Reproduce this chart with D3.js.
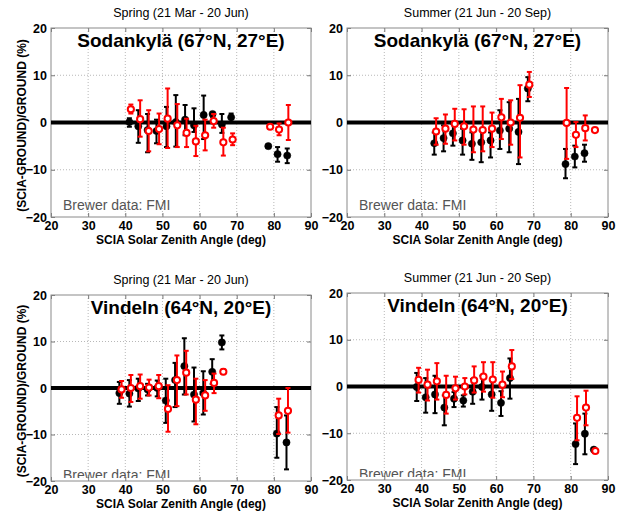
<!DOCTYPE html>
<html>
<head>
<meta charset="utf-8">
<script src="https://cdn.jsdelivr.net/npm/d3@7"></script>
<style>
  body { margin: 0; background: #fff; }
  svg { display: block; font-family: "Liberation Sans", Arial, sans-serif; }
</style>
</head>
<body>
<svg id="chart" width="623" height="512"></svg>
<script>
const xTicks = [20, 30, 40, 50, 60, 70, 80, 90];
const yTicks = [-20, -10, 0, 10, 20];
const seasons = ["Spring (21 Mar - 20 Jun)", "Summer (21 Jun - 20 Sep)"];
const stations = ["Sodankylä (67°N, 27°E)", "Vindeln (64°N, 20°E)"];
const sourceNote = "Brewer data: FMI";
const xTitle = "SCIA Solar Zenith Angle (deg)";
const yTitle = "(SCIA-GROUND)/GROUND (%)";

// rows: [sza, value, upper end of bar, lower end of bar]
const sodSpringBlack = [
  [41.1, 0.1, 0.9, -0.9], [43.5, -0.8, 2.6, -4.3], [46.0, -1.6, 1.8, -6.3],
  [48.4, -1.8, 0.6, -4.4], [51.1, -0.8, 3.3, -5.2], [53.6, 0.1, 5.8, -5.1],
  [56.1, 0.6, 3.7, -2.7], [58.5, -0.6, 3.0, -2.0], [61.1, 1.6, 5.7, -3.5],
  [63.5, 1.8, 2.2, 1.2], [66.0, -0.4, 1.8, -2.2], [68.5, 1.1, 1.9, 0.1],
  [78.5, -5.0, -4.7, -5.3], [81.0, -6.7, -5.2, -8.3], [83.6, -7.0, -5.5, -8.6]
];
const sodSpringRed = [
  [41.5, 2.8, 3.8, 1.9], [44.0, 0.7, 4.7, -3.0], [46.3, -1.8, 2.6, -6.1],
  [49.1, -1.4, 1.9, -4.6], [51.4, 0.8, 7.2, -5.4], [54.0, -0.6, 3.9, -5.2],
  [56.5, -2.2, 0.8, -5.2], [59.0, -4.0, -0.7, -7.1], [61.5, -2.7, 0.6, -5.9],
  [63.8, 0.3, 1.8, -1.1], [66.4, -4.2, -1.1, -7.0], [68.9, -3.6, -2.3, -4.8],
  [79.0, -0.9, -0.5, -1.3], [81.4, -1.5, -0.2, -2.7], [83.9, 0.0, 3.7, -3.7]
];
const sodSummerBlack = [
  [43.4, -4.4, -2.1, -6.8], [45.9, -3.3, -0.6, -6.1], [48.4, -2.3, -0.3, -4.9],
  [51.0, -3.8, -1.3, -6.8], [53.5, -4.5, -2.1, -7.9], [56.0, -4.2, -1.7, -8.4],
  [58.5, -3.8, -2.1, -7.4], [61.0, -1.7, 2.6, -5.6], [63.5, -1.3, 4.3, -6.3],
  [66.0, -2.0, 5.0, -8.8], [68.5, 7.2, 9.6, 4.5], [78.6, -8.8, -5.6, -11.8],
  [81.1, -7.2, -4.9, -9.5], [83.7, -6.5, -4.7, -8.3]
];
const sodSummerRed = [
  [43.9, -1.9, 0.9, -4.7], [46.4, -1.3, 1.7, -4.5], [48.9, -0.3, 2.9, -3.8],
  [51.4, -0.8, 2.8, -4.7], [53.9, -1.5, 3.4, -6.3], [56.4, -1.6, 3.4, -6.1],
  [58.9, -1.3, 2.1, -5.2], [61.4, 1.1, 5.0, -3.5], [63.9, 0.0, 4.7, -4.7],
  [66.4, 1.0, 7.9, -7.4], [68.9, 8.0, 10.7, 5.4], [78.9, -0.1, 7.3, -7.7],
  [81.4, -2.6, 0.1, -5.2], [83.9, -1.2, 1.5, -3.8], [86.5, -1.6, -1.6, -1.6]
];
const vinSpringBlack = [
  [38.4, -1.1, 1.3, -3.4], [41.1, -1.2, 1.7, -4.0], [43.5, -0.1, 2.0, -2.8],
  [46.0, -0.3, 0.9, -1.6], [48.6, 0.0, 1.6, -1.8], [50.9, -2.7, 2.0, -7.5],
  [53.4, 1.7, 5.4, -4.1], [55.9, 4.7, 10.7, -1.4], [58.5, -1.4, 4.4, -7.2],
  [61.0, -1.1, 3.6, -5.7], [63.4, 3.5, 6.2, 0.9], [66.0, 9.8, 11.3, 8.3],
  [80.8, -9.8, -4.1, -15.0], [83.4, -11.7, -5.9, -17.5]
];
const vinSpringRed = [
  [39.0, -0.3, 1.5, -2.1], [41.5, 0.0, 2.8, -3.0], [44.0, 0.4, 2.9, -2.3],
  [46.4, 0.1, 1.8, -1.6], [49.0, 0.4, 2.8, -2.2], [51.5, -4.5, 0.6, -9.4],
  [53.9, 1.7, 7.0, -3.9], [56.4, 3.3, 8.0, -1.4], [59.0, -2.5, 2.0, -7.8],
  [61.5, -1.6, 1.7, -4.9], [63.9, 1.1, 3.1, -1.1], [66.4, 3.5, 4.0, 3.0],
  [81.3, -5.9, -2.3, -9.9], [83.8, -4.9, 0.0, -9.6]
];
const vinSummerBlack = [
  [38.7, -0.1, 2.9, -3.1], [41.1, -2.3, 1.8, -5.6], [43.6, -1.7, 2.3, -5.7],
  [46.1, -4.5, -1.9, -8.3], [48.7, -2.6, -1.2, -4.4], [51.2, -3.0, -1.9, -4.3],
  [53.7, -1.1, 1.6, -3.7], [56.2, -0.1, 2.3, -2.8], [58.8, -1.7, 1.6, -5.2],
  [61.3, -3.5, -1.0, -6.3], [63.7, 1.8, 6.0, -2.6], [81.3, -12.3, -7.9, -16.6],
  [83.8, -10.1, -5.8, -14.5], [86.2, -13.5, -13.5, -13.5]
];
const vinSummerRed = [
  [39.2, 1.4, 4.0, -1.3], [41.6, 0.4, 3.6, -3.0], [44.1, 1.1, 5.0, -2.8],
  [46.6, -1.8, 2.3, -5.8], [49.1, -0.4, 2.1, -2.8], [51.6, 0.0, 1.8, -1.7],
  [54.1, 1.3, 4.3, -1.3], [56.6, 2.1, 5.2, -1.1], [59.1, 1.5, 5.2, -2.4],
  [61.7, 0.4, 3.2, -2.3], [64.2, 4.3, 7.8, 1.6], [81.7, -6.7, -2.1, -11.5],
  [84.1, -4.5, -0.9, -8.3], [86.6, -13.8, -13.8, -13.8]
];

const panels = [
  {black: sodSpringBlack, red: sodSpringRed, station: 0, season: 0, x0: 51, x1: 311, y0: 28, y1: 217, yLabel: true},
  {black: sodSummerBlack, red: sodSummerRed, station: 0, season: 1, x0: 347, x1: 608, y0: 28, y1: 217, yLabel: false},
  {black: vinSpringBlack, red: vinSpringRed, station: 1, season: 0, x0: 51, x1: 311, y0: 295, y1: 481, yLabel: true},
  {black: vinSummerBlack, red: vinSummerRed, station: 1, season: 1, x0: 347, x1: 608, y0: 293, y1: 480, yLabel: false}
];

const svg = d3.select('#chart');

panels.forEach((p, k) => {
  const x = d3.scaleLinear().domain([20, 90]).range([p.x0, p.x1]);
  const y = d3.scaleLinear().domain([-20, 20]).range([p.y1, p.y0]);
  const g = svg.append('g');

  // bottom row: the source note sits low and gets cut by the axis
  const clipBottom = k > 1 ? p.y1 - 3 : p.y1;
  g.append('clipPath').attr('id', 'clip' + k)
    .append('rect')
    .attr('x', p.x0).attr('y', p.y0)
    .attr('width', p.x1 - p.x0).attr('height', clipBottom - p.y0);

  // dotted grid
  g.selectAll('.vgrid')
    .data(xTicks.slice(1, -1))
    .join('line')
    .attr('x1', d => x(d)).attr('x2', d => x(d))
    .attr('y1', p.y0).attr('y2', p.y1)
    .attr('stroke', '#b8b8b8').attr('stroke-dasharray', '1,2');
  g.selectAll('.hgrid')
    .data(yTicks.slice(1, -1))
    .join('line')
    .attr('x1', p.x0).attr('x2', p.x1)
    .attr('y1', d => y(d)).attr('y2', d => y(d))
    .attr('stroke', '#b8b8b8').attr('stroke-dasharray', '1,2');

  // axes with inward ticks
  const bottom = g.append('g')
    .attr('transform', `translate(0, ${p.y1})`)
    .call(d3.axisBottom(x).tickValues(xTicks).tickSize(-4).tickPadding(4));
  const left = g.append('g')
    .attr('transform', `translate(${p.x0}, 0)`)
    .call(d3.axisLeft(y).tickValues(yTicks).tickSize(-4).tickPadding(4));
  g.append('g')
    .attr('transform', `translate(0, ${p.y0})`)
    .call(d3.axisTop(x).tickValues(xTicks).tickSize(-4).tickFormat(''));
  g.append('g')
    .attr('transform', `translate(${p.x1}, 0)`)
    .call(d3.axisRight(y).tickValues(yTicks).tickSize(-4).tickFormat(''));
  g.selectAll('.domain').remove();
  g.selectAll('.tick line').attr('stroke', '#777');
  [bottom, left].forEach(a => a.selectAll('text')
    .attr('fill', '#000')
    .style('font-size', '12.5px')
    .style('font-weight', 'bold'));

  g.append('rect')
    .attr('x', p.x0).attr('y', p.y0)
    .attr('width', p.x1 - p.x0).attr('height', p.y1 - p.y0)
    .attr('fill', 'none').attr('stroke', '#8a8a8a');

  // zero reference line
  g.append('line')
    .attr('x1', p.x0).attr('x2', p.x1)
    .attr('y1', y(0)).attr('y2', y(0))
    .attr('stroke', '#000').attr('stroke-width', 4);

  const plot = g.append('g').attr('clip-path', `url(#clip${k})`);

  plot.append('text')
    .attr('x', p.x0 + 12).attr('y', k > 1 ? p.y1 - 1 : p.y1 - 7)
    .attr('fill', '#555')
    .style('font-size', '14px')
    .text(sourceNote);

  [[p.black, '#000'], [p.red, '#ff0000']].forEach(([rows, col], s) => {
    const bars = plot.append('g')
      .attr('stroke', col).attr('stroke-width', 2)
      .selectAll('g')
      .data(rows.filter(r => r[2] !== r[3]))
      .join('g');
    bars.append('line')
      .attr('x1', r => x(r[0])).attr('x2', r => x(r[0]))
      .attr('y1', r => y(r[2])).attr('y2', r => y(r[3]));
    bars.append('line')
      .attr('x1', r => x(r[0]) - 2.5).attr('x2', r => x(r[0]) + 2.5)
      .attr('y1', r => y(r[2])).attr('y2', r => y(r[2]));
    bars.append('line')
      .attr('x1', r => x(r[0]) - 2.5).attr('x2', r => x(r[0]) + 2.5)
      .attr('y1', r => y(r[3])).attr('y2', r => y(r[3]));

    plot.append('g')
      .selectAll('circle')
      .data(rows)
      .join('circle')
      .attr('cx', r => x(r[0]))
      .attr('cy', r => y(r[1]))
      .attr('r', s === 0 ? 3.6 : 3.1)
      .attr('fill', s === 0 ? '#000' : '#fff')
      .attr('stroke', col)
      .attr('stroke-width', s === 0 ? 0.5 : 2);
  });

  const cx = (p.x0 + p.x1) / 2;
  g.append('text')
    .attr('x', cx).attr('y', p.y0 - 11)
    .attr('text-anchor', 'middle')
    .style('font-size', '12.5px')
    .text(seasons[p.season]);

  g.append('text')
    .attr('x', cx).attr('y', p.y0 + 19)
    .attr('text-anchor', 'middle')
    .style('font-size', '19px')
    .style('font-weight', 'bold')
    .text(stations[p.station]);

  g.append('text')
    .attr('x', cx).attr('y', p.y1 + 27)
    .attr('text-anchor', 'middle')
    .style('font-size', '12px')
    .style('font-weight', 'bold')
    .text(xTitle);

  if (p.yLabel) {
    g.append('text')
      .attr('transform', `translate(26, ${(p.y0 + p.y1) / 2 + 3}) rotate(-90)`)
      .attr('text-anchor', 'middle')
      .style('font-size', '12px')
      .style('font-weight', 'bold')
      .text(yTitle);
  }
});
</script>
</body>
</html>
